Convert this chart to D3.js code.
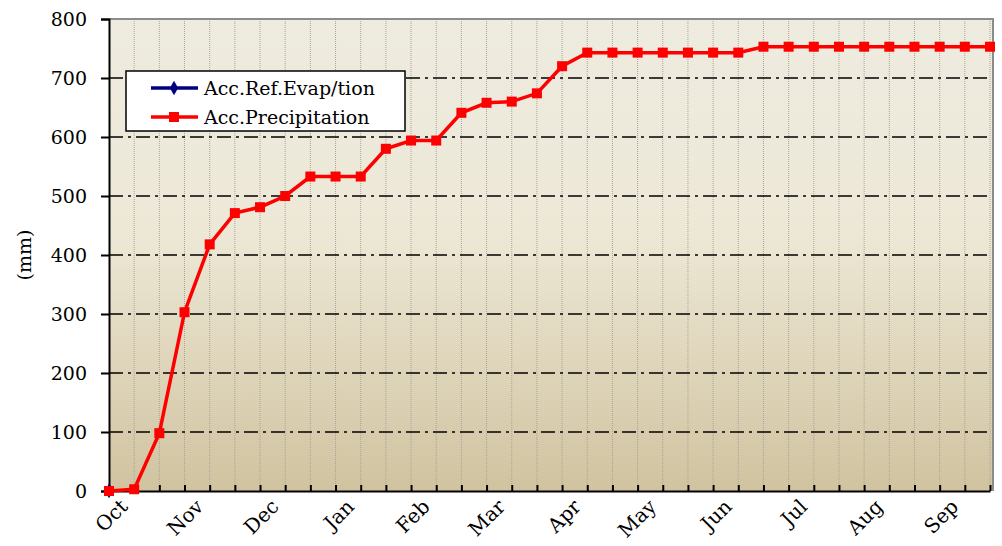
<!DOCTYPE html>
<html>
<head>
<meta charset="utf-8">
<script src="https://cdn.jsdelivr.net/npm/d3@7"></script>
<style>
  body { margin: 0; background: #fff; }
  svg text { font-family: "DejaVu Serif", "Liberation Serif", serif; fill: #000; }
</style>
</head>
<body>
<svg id="chart" width="1002" height="546"></svg>
<script>
const months = ["Oct", "Nov", "Dec", "Jan", "Feb", "Mar", "Apr", "May", "Jun", "Jul", "Aug", "Sep"];
const dekads = d3.range(36);
const precipitation = [0, 3, 98, 303, 418, 471, 481, 500, 533, 533, 533, 580, 594, 594, 641, 658, 660, 674,
    720, 743, 743, 743, 743, 743, 743, 743, 753, 753, 753, 753, 753, 753, 753, 753, 753, 753];
const refEvap = [0];
const yTicks = [0, 100, 200, 300, 400, 500, 600, 700, 800];

const svg = d3.select("#chart");
const plot = { left: 109, right: 993, top: 19, bottom: 491 };

const x = d3.scalePoint().domain(dekads).range([plot.left, 990]);
const y = d3.scaleLinear().domain([0, 800]).range([plot.bottom, plot.top]);

const defs = svg.append("defs");
const grad = defs.append("linearGradient").attr("id", "bg").attr("x1", 0).attr("x2", 0).attr("y1", 0).attr("y2", 1);
grad.append("stop").attr("offset", "0%").attr("stop-color", "#EEEBE0");
grad.append("stop").attr("offset", "45%").attr("stop-color", "#EDE8D6");
grad.append("stop").attr("offset", "100%").attr("stop-color", "#D1C3A0");

svg.append("rect")
    .attr("x", plot.left).attr("y", plot.top)
    .attr("width", plot.right - plot.left).attr("height", plot.bottom - plot.top)
    .attr("fill", "url(#bg)");

// vertical dotted grid
svg.append("g").selectAll("line")
    .data(dekads.slice(1))
    .join("line")
    .attr("x1", d => x(d)).attr("x2", d => x(d))
    .attr("y1", plot.top).attr("y2", plot.bottom)
    .attr("stroke", "#a8a49a").attr("stroke-width", 1).attr("stroke-dasharray", "1,1");

// horizontal dash-dot grid
svg.append("g").selectAll("line")
    .data(yTicks.filter(d => d > 0 && d < 800))
    .join("line")
    .attr("x1", plot.left).attr("x2", plot.right)
    .attr("y1", d => y(d)).attr("y2", d => y(d))
    .attr("stroke", "#000").attr("stroke-width", 1.5).attr("stroke-dasharray", "14,5,3,5");

// grey top/right borders
svg.append("path")
    .attr("d", `M${plot.left},${plot.top}H${plot.right}V${plot.bottom}`)
    .attr("fill", "none").attr("stroke", "#8c8c8c").attr("stroke-width", 2);

// y axis
const yAxis = svg.append("g")
    .attr("transform", `translate(${plot.left},0)`)
    .call(d3.axisLeft(y).tickValues(yTicks).tickSize(8).tickPadding(14));
yAxis.select(".domain").attr("stroke", "#000").attr("stroke-width", 2);
yAxis.selectAll(".tick line").attr("stroke", "#000").attr("stroke-width", 2);
yAxis.selectAll(".tick text").attr("font-size", 19).attr("font-family", "DejaVu Serif");

// x axis: inward ticks
const xAxis = svg.append("g")
    .attr("transform", `translate(0,${plot.bottom})`)
    .call(d3.axisBottom(x).tickSize(-6).tickSizeOuter(0).tickFormat(""));
xAxis.select(".domain").attr("stroke", "#000").attr("stroke-width", 2);
xAxis.selectAll(".tick line").attr("stroke", "#000").attr("stroke-width", 2);

svg.append("g").selectAll("text")
    .data(months)
    .join("text")
    .attr("transform", (d, i) => `translate(${x(i * 3) + 10},${plot.bottom + 7}) rotate(-45)`)
    .attr("text-anchor", "end")
    .attr("dy", "0.7em")
    .attr("font-size", 20)
    .text(d => d);

svg.append("text")
    .attr("transform", "translate(31,255) rotate(-90)")
    .attr("text-anchor", "middle")
    .attr("font-size", 19)
    .text("(mm)");

// series
const line = d3.line().x((d, i) => x(i)).y(d => y(d));

svg.append("path")
    .datum(refEvap)
    .attr("d", line)
    .attr("fill", "none").attr("stroke", "#000080").attr("stroke-width", 3);
svg.append("g").selectAll("path")
    .data(refEvap)
    .join("path")
    .attr("d", d3.symbol(d3.symbolDiamond, 60))
    .attr("transform", (d, i) => `translate(${x(i)},${y(d)})`)
    .attr("fill", "#000080");

svg.append("path")
    .datum(precipitation)
    .attr("d", line)
    .attr("fill", "none").attr("stroke", "#ff0000").attr("stroke-width", 3.5);
svg.append("g").selectAll("rect")
    .data(precipitation)
    .join("rect")
    .attr("x", (d, i) => x(i) - 5).attr("y", d => y(d) - 5)
    .attr("width", 10).attr("height", 10)
    .attr("fill", "#ff0000");

// legend
const legend = svg.append("g").attr("transform", "translate(126,71)");
legend.append("rect")
    .attr("width", 279).attr("height", 60)
    .attr("fill", "#fff").attr("stroke", "#000").attr("stroke-width", 1.5);
const items = [
    { label: "Acc.Ref.Evap/tion", color: "#000080", shape: "diamond" },
    { label: "Acc.Precipitation", color: "#ff0000", shape: "square" }
];
items.forEach((it, i) => {
    const cy = 17 + i * 29;
    legend.append("line")
        .attr("x1", 25).attr("x2", 72).attr("y1", cy).attr("y2", cy)
        .attr("stroke", it.color).attr("stroke-width", 3.5);
    if (it.shape === "diamond") {
        legend.append("path")
            .attr("d", d3.symbol(d3.symbolDiamond, 60))
            .attr("transform", `translate(48,${cy})`)
            .attr("fill", it.color);
    } else {
        legend.append("rect")
            .attr("x", 43).attr("y", cy - 5).attr("width", 10).attr("height", 10)
            .attr("fill", it.color);
    }
    legend.append("text")
        .attr("x", 78).attr("y", cy).attr("dy", "0.35em")
        .attr("font-size", 19)
        .text(it.label);
});
</script>
</body>
</html>
